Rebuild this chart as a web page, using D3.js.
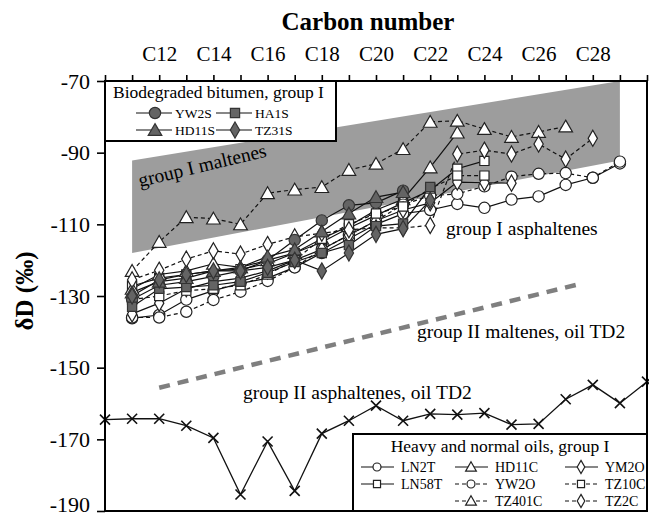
<!DOCTYPE html>
<html>
<head>
<meta charset="utf-8">
<script src="https://cdn.jsdelivr.net/npm/d3@7"></script>
<style>
  body { margin: 0; background: #fff; }
  text { font-family: "Liberation Serif", "Times New Roman", serif; }
</style>
</head>
<body>
<script>
// carbon numbers for the sample series (C11 .. C29)
var carbons = [11, 12, 13, 14, 15, 16, 17, 18, 19, 20, 21, 22, 23, 24, 25, 26, 27, 28, 29];
// carbon numbers for oil TD2 asphaltene line (C10 .. C30)
var carbonsTD2 = [10, 11, 12, 13, 14, 15, 16, 17, 18, 19, 20, 21, 22, 23, 24, 25, 26, 27, 28, 29, 30];
var xTicks = [10, 11, 12, 13, 14, 15, 16, 17, 18, 19, 20, 21, 22, 23, 24, 25, 26, 27, 28, 29, 30];
var xLabels = [12, 14, 16, 18, 20, 22, 24, 26, 28];
var yTicks = [-70, -90, -110, -130, -150, -170, -190];

// biodegraded bitumen, group I (filled markers)
var YW2S  = [-131, -127, -126, -124.5, -123, -120, -114.4, -108.9, -104.7, -104, -100.6, null, null, null, null, null, null, null, null];
var HA1S  = [-133, -128, -127.5, -127, -126, -123.5, -120.5, -118, -115.8, -110.5, -109.8, -99.6, null, null, null, null, null, null, null];
var HD11S = [-129, -126, -125, -123, -122, -119, -117, -112, -107, -102.4, -101, null, null, null, null, null, null, null, null];
var TZ31S = [-130, -125.5, -124, -123, -123, -122, -120, -123, -118, -112.8, -111.2, -103.3, null, null, null, null, null, null, null];

// heavy and normal oils, group I (open markers)
var LN2T   = [-136.2, -135.3, -131, -128.5, -126.5, -125, -122, -118, -114, -110, -107, -106, -104.3, -105.4, -103.1, -102.2, -99, -97, -93];
var LN58T  = [-127.2, -125, -124, -123, -122.5, -121, -118, -115, -111, -107.5, -104, -100.5, -94.5, -92.3, null, null, null, null, null];
var HD11C  = [-128, -124, -123, -121, -122, -120, -118, -114, -110.5, -106, -103, -94.1, -84.4, null, null, null, null, null, null];
var YW2O   = [-136, -136, -134.4, -131.1, -128.8, -125.8, -122, -117, -113, -109, -104.5, -102, -101.5, -99.4, -96.7, -95.9, -95.7, -97, -92.5];
var TZ401C = [-123, -114.9, -108, -108.4, -110, -101.3, -100.3, -99.6, -94.8, -93.1, -89, -81.4, -81.1, -83.4, -85.6, -84.2, -82.7, null, null];
var YM2O   = [-135, -132, -128, -126, -125, -123, -120, -117, -113, -109, -106, -104, -98.2, -98.4, -98.5, null, null, null, null];
var TZ10C  = [-131, -130, -128.5, -128, -127, -124, -120, -114, -110, -107, -105, -100, -96.4, -96.4, null, null, null, null, null];
var TZ2C   = [-125.5, -122.8, -119.7, -117.4, -118.3, -115.6, -113.5, -112.5, -111.5, -111, -111, -110.3, -90.4, -89.3, -90.4, -87.6, -91.8, -86, null];

// group II asphaltenes, oil TD2
var TD2asph = [-164.5, -164.25, -164.25, -166.2, -169.6, -185.4, -170.6, -184.4, -168.4, -164.8, -160.6, -164.8, -162.9, -163.1, -162.7, -165.9, -165.7, -158.8, -154.8, -159.9, -153.9];

// group I maltenes range (C, upper, lower)
var bandC = [11, 29];
var bandUpper = [-92.2, -70];
var bandLower = [-118, -92.2];
// group II maltenes trend (oil TD2)
var trendC = [12, 27.6];
var trendD = [-155.6, -126.5];

var w = 649, h = 519;
var pL = 105, pR = 647, pT = 81, pB = 511;

var svg = d3.select("body").append("svg")
    .attr("width", w)
    .attr("height", h);

var x = d3.scaleLinear().domain([10, 30]).range([pL, pR]);
var y = d3.scaleLinear().domain([-190, -70]).range([pB, pT]);

// grey band
var bandPts = [[bandC[0], bandUpper[0]], [bandC[1], bandUpper[1]], [bandC[1], bandLower[1]], [bandC[0], bandLower[0]]];
svg.append("polygon")
    .attr("points", bandPts.map(function(p){ return x(p[0]) + "," + y(p[1]); }).join(" "))
    .style("fill", "#9d9d9d");

// group II dashed trend
svg.append("line")
    .attr("x1", x(trendC[0])).attr("y1", y(trendD[0]))
    .attr("x2", x(trendC[1])).attr("y2", y(trendD[1]))
    .style("stroke", "#7f7f7f")
    .style("stroke-width", 4.5)
    .style("stroke-dasharray", "11,8");

// marker symbols
var symbols = {
    circle: d3.symbol().type(d3.symbolCircle).size(100),
    square: d3.symbol().type(d3.symbolSquare).size(85),
    triangle: d3.symbol().type(d3.symbolTriangle).size(80),
    diamond: d3.symbol().type(d3.symbolDiamond).size(75)
};

var series = [
    {name: "LN2T", vals: LN2T, shape: "circle", filled: false, dash: false},
    {name: "LN58T", vals: LN58T, shape: "square", filled: false, dash: false},
    {name: "HD11C", vals: HD11C, shape: "triangle", filled: false, dash: false},
    {name: "YW2O", vals: YW2O, shape: "circle", filled: false, dash: true},
    {name: "TZ401C", vals: TZ401C, shape: "triangle", filled: false, dash: true},
    {name: "YM2O", vals: YM2O, shape: "diamond", filled: false, dash: false},
    {name: "TZ10C", vals: TZ10C, shape: "square", filled: false, dash: true},
    {name: "TZ2C", vals: TZ2C, shape: "diamond", filled: false, dash: true},
    {name: "YW2S", vals: YW2S, shape: "circle", filled: true, dash: false},
    {name: "HA1S", vals: HA1S, shape: "square", filled: true, dash: false},
    {name: "HD11S", vals: HD11S, shape: "triangle", filled: true, dash: false},
    {name: "TZ31S", vals: TZ31S, shape: "diamond", filled: true, dash: false}
];

var line = d3.line()
    .defined(function(d){ return d[1] !== null; })
    .x(function(d){ return x(d[0]); })
    .y(function(d){ return y(d[1]); });

function pts(vals, cs) {
    return vals.map(function(v, i){ return [cs[i], v]; });
}

function drawMarker(g, shape, filled, cx, cy) {
    var sy = shape === "triangle" ? cy + 1.5 : cy;
    g.append("path")
        .attr("d", symbols[shape]())
        .attr("transform", "translate(" + cx + "," + sy + ")")
        .style("fill", filled ? "#646464" : "#fff")
        .style("stroke", filled ? "#333" : "#222")
        .style("stroke-width", 1.2);
}

// lines first, then markers
series.forEach(function(s){
    svg.append("path")
        .datum(pts(s.vals, carbons))
        .attr("d", line)
        .style("fill", "none")
        .style("stroke", "#111")
        .style("stroke-width", 1.2)
        .style("stroke-dasharray", s.dash ? "4,3" : null);
});
series.forEach(function(s){
    var g = svg.append("g").attr("class", s.name);
    pts(s.vals, carbons).forEach(function(p){
        if (p[1] === null) return;
        drawMarker(g, s.shape, s.filled, x(p[0]), y(p[1]));
    });
});

// TD2 asphaltene line with crosses
var td = pts(TD2asph, carbonsTD2);
svg.append("path")
    .datum(td)
    .attr("d", line)
    .style("fill", "none")
    .style("stroke", "#111")
    .style("stroke-width", 1.3);
svg.selectAll(".cross")
    .data(td)
    .enter()
    .append("path")
    .attr("class", "cross")
    .attr("d", "M-5,-5L5,5M-5,5L5,-5")
    .attr("transform", function(d){ return "translate(" + x(d[0]) + "," + y(d[1]) + ")"; })
    .style("stroke", "#111")
    .style("stroke-width", 1.6);

// band labels
svg.append("text")
    .attr("transform", "translate(140,187) rotate(-13.5)")
    .style("font-size", "19.5px")
    .text("group I maltenes");
svg.append("text").attr("x", 446).attr("y", 235).style("font-size", "19.5px").text("group I asphaltenes");
svg.append("text").attr("x", 417).attr("y", 338).style("font-size", "19.5px").text("group II maltenes, oil TD2");
svg.append("text").attr("x", 243).attr("y", 399).style("font-size", "19.5px").text("group II asphaltenes, oil TD2");

// frame
svg.append("rect")
    .attr("x", pL).attr("y", pT)
    .attr("width", pR - pL).attr("height", pB - pT)
    .style("fill", "none")
    .style("stroke", "#000")
    .style("stroke-width", 2);

// top x axis
var xAxis = d3.axisTop(x)
    .tickValues(xTicks)
    .tickSize(6)
    .tickPadding(14)
    .tickFormat(function(d){ return xLabels.indexOf(d) >= 0 ? "C" + d : ""; });
var gx = svg.append("g")
    .attr("transform", "translate(0," + pT + ")")
    .call(xAxis);
gx.select(".domain").remove();
gx.selectAll("line").style("stroke", "#000").style("stroke-width", 1.6);
gx.selectAll("text")
    .style("font-family", "Liberation Serif, serif")
    .style("font-size", "21px")
    .style("fill", "#000");

// left y axis (plain hyphen minus, as in the original)
var yAxis = d3.axisLeft(y)
    .tickValues(yTicks)
    .tickSize(8)
    .tickPadding(7)
    .tickFormat(function(d){ return String(d); });
var gy = svg.append("g")
    .attr("transform", "translate(" + pL + ",0)")
    .call(yAxis);
gy.select(".domain").remove();
gy.selectAll("line").style("stroke", "#000").style("stroke-width", 1.6);
gy.selectAll("text")
    .style("font-family", "Liberation Serif, serif")
    .style("font-size", "22px")
    .style("fill", "#000");
gy.selectAll("text").filter(function(d){ return d === -190; }).attr("dy", "0.02em");

// titles
svg.append("text")
    .attr("x", 368).attr("y", 30)
    .attr("text-anchor", "middle")
    .style("font-size", "25px")
    .style("font-weight", "bold")
    .text("Carbon number");
svg.append("text")
    .attr("transform", "translate(33,291) rotate(-90)")
    .attr("text-anchor", "middle")
    .style("font-size", "25px")
    .style("font-weight", "bold")
    .text("δD (‰)");

// legend 1: biodegraded bitumen
var leg1 = svg.append("g");
leg1.append("rect")
    .attr("x", pL).attr("y", pT)
    .attr("width", 336 - pL).attr("height", 141 - pT)
    .style("fill", "#fff")
    .style("stroke", "#000")
    .style("stroke-width", 2);
leg1.append("text").attr("x", 113).attr("y", 98).style("font-size", "17.5px").text("Biodegraded bitumen, group I");
var leg1Items = [
    {s: series[8], lx: 136, ly: 113},
    {s: series[9], lx: 216, ly: 113},
    {s: series[10], lx: 136, ly: 130},
    {s: series[11], lx: 216, ly: 130}
];
leg1Items.forEach(function(it){
    leg1.append("line")
        .attr("x1", it.lx).attr("x2", it.lx + 36)
        .attr("y1", it.ly).attr("y2", it.ly)
        .style("stroke", "#111").style("stroke-width", 1.2);
    drawMarker(leg1, it.s.shape, true, it.lx + 19, it.ly);
    leg1.append("text")
        .attr("x", it.lx + 39).attr("y", it.ly + 4.5)
        .style("font-size", "13.5px")
        .text(it.s.name);
});

// legend 2: heavy and normal oils
var leg2 = svg.append("g");
leg2.append("rect")
    .attr("x", 353).attr("y", 434)
    .attr("width", pR - 353).attr("height", pB - 434)
    .style("fill", "#fff")
    .style("stroke", "#000")
    .style("stroke-width", 2);
leg2.append("text").attr("x", 500).attr("y", 452)
    .attr("text-anchor", "middle")
    .style("font-size", "17.5px")
    .text("Heavy and normal oils, group I");
var leg2Items = [
    {s: series[0], lx: 361, ly: 467},
    {s: series[1], lx: 361, ly: 484},
    {s: series[2], lx: 455, ly: 467},
    {s: series[3], lx: 455, ly: 484},
    {s: series[4], lx: 455, ly: 501},
    {s: series[5], lx: 565, ly: 467},
    {s: series[6], lx: 565, ly: 484},
    {s: series[7], lx: 565, ly: 501}
];
leg2Items.forEach(function(it){
    leg2.append("line")
        .attr("x1", it.lx).attr("x2", it.lx + 33)
        .attr("y1", it.ly).attr("y2", it.ly)
        .style("stroke", "#111").style("stroke-width", 1.2)
        .style("stroke-dasharray", it.s.dash ? "4,3" : null);
    var g = leg2.append("g");
    g.append("path")
        .attr("d", d3.symbol().type(
            it.s.shape === "circle" ? d3.symbolCircle :
            it.s.shape === "square" ? d3.symbolSquare :
            it.s.shape === "triangle" ? d3.symbolTriangle : d3.symbolDiamond).size(50)())
        .attr("transform", "translate(" + (it.lx + 16) + "," + (it.ly + (it.s.shape === "triangle" ? 1 : 0)) + ")")
        .style("fill", "#fff").style("stroke", "#222").style("stroke-width", 1.2);
    leg2.append("text")
        .attr("x", it.lx + 40).attr("y", it.ly + 5)
        .style("font-size", "14px")
        .text(it.s.name);
});
</script>
</body>
</html>
